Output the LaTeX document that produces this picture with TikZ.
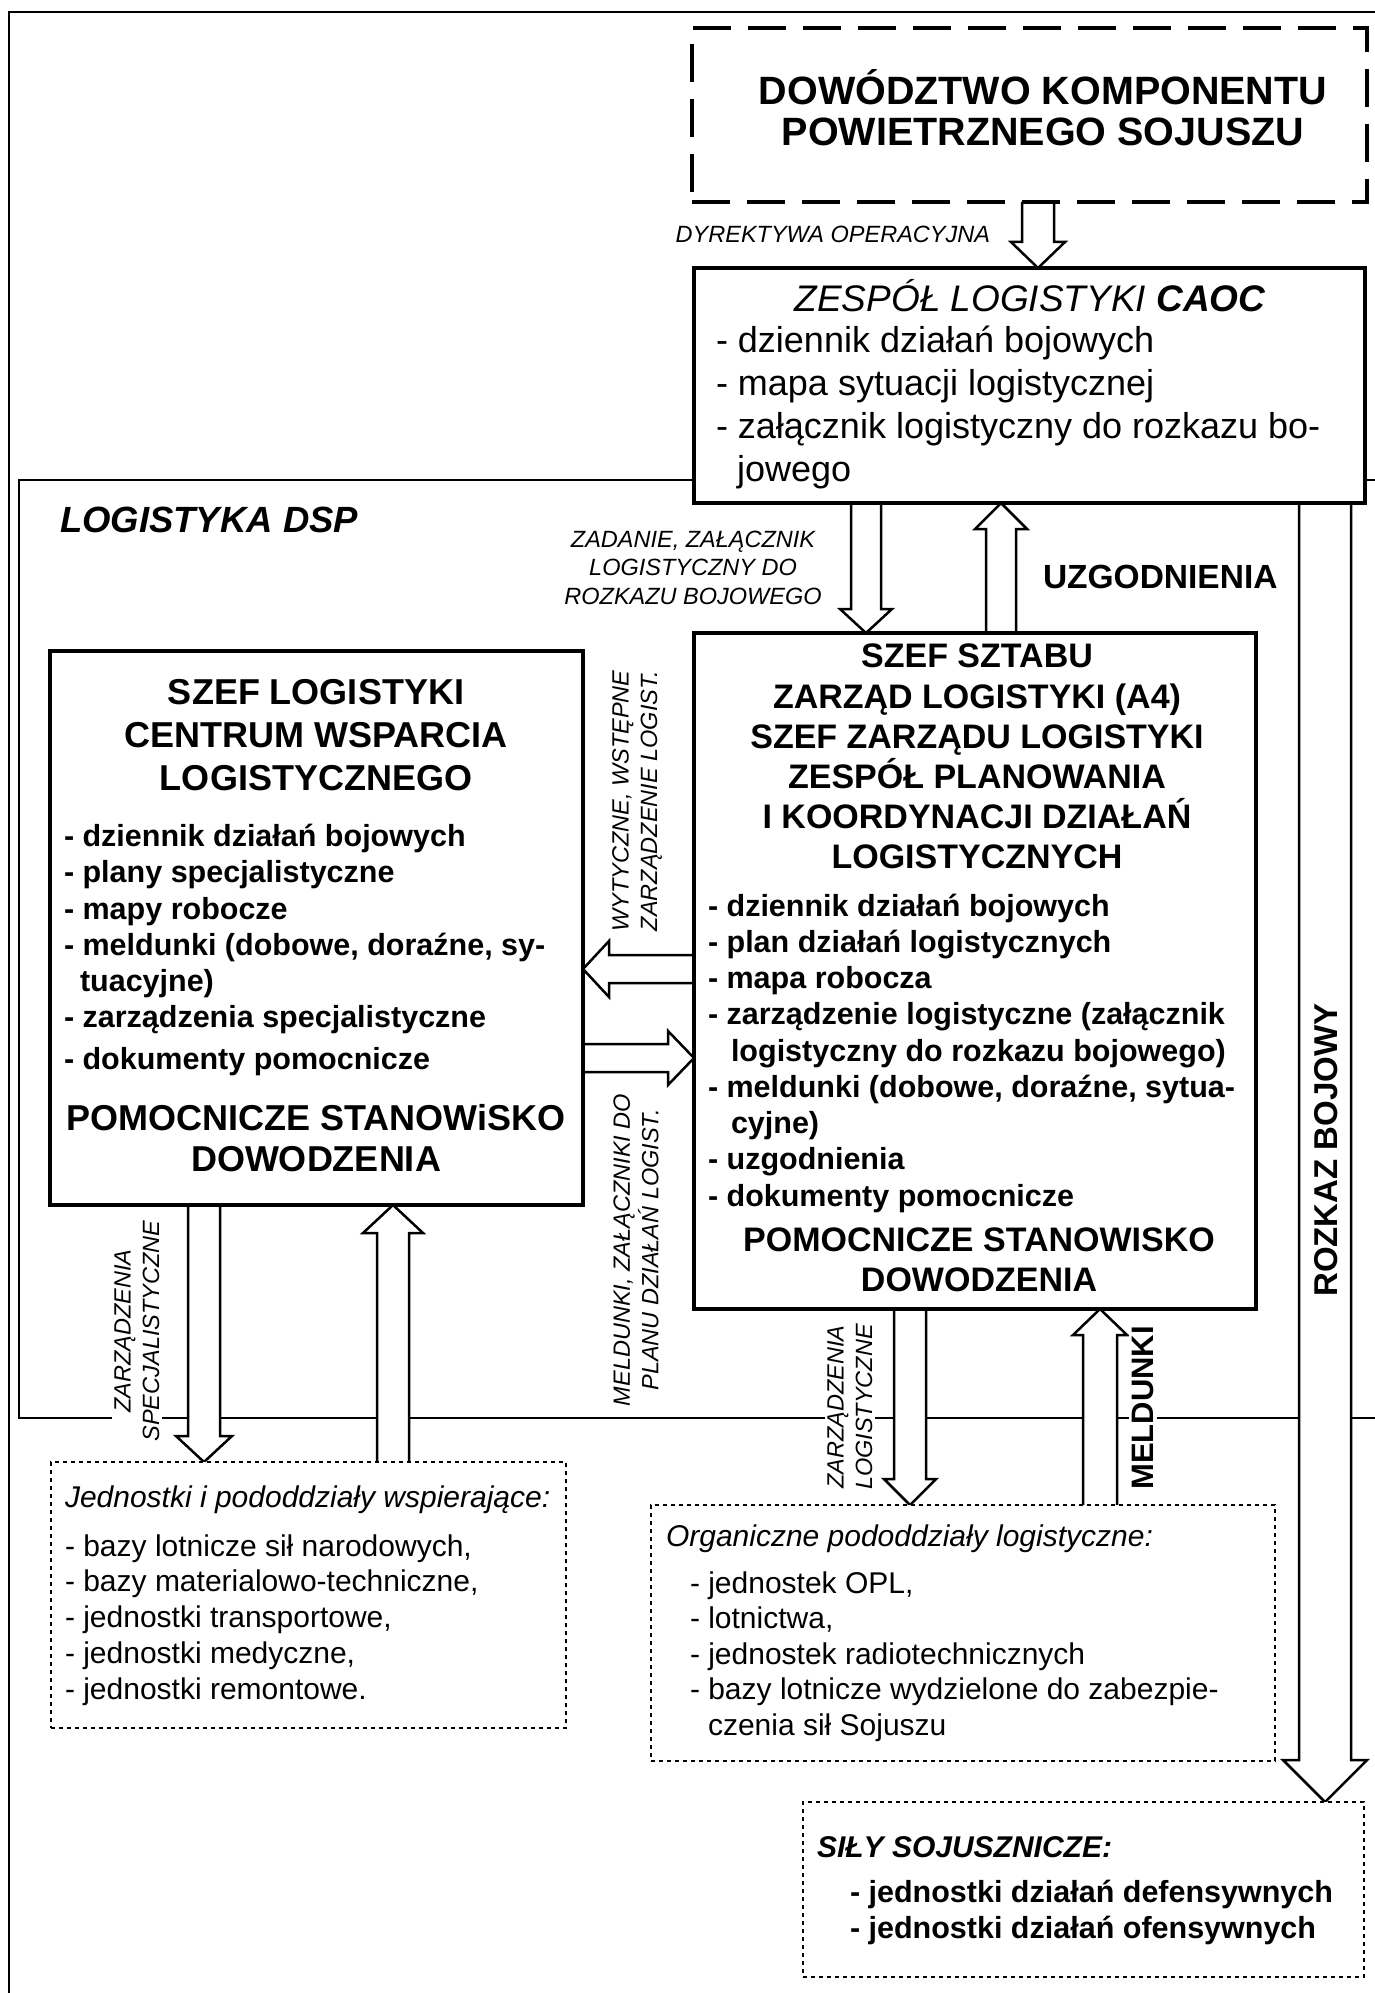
\documentclass[tikz,border=0pt]{standalone}
\usepackage{fontspec}
\setmainfont{Liberation Sans}
\usetikzlibrary{calc}
\pgfdeclarelayer{bg}
\pgfdeclarelayer{arr}
\pgfsetlayers{bg,arr,main}
\newcommand{\fs}[2]{\fontsize{#1}{#2}\selectfont}
% vertical block arrow: #1 tail, #2 tip, #3 shaft half width, #4 head half width, #5 signed head length (canvas)
\newcommand{\varrow}[5]{%
  \draw[blk] let \p1=(#1), \p2=(#2) in
    ({\x1-#3},\y1) -- ({\x1-#3},{\y2+(#5)}) -- ({\x1-#4},{\y2+(#5)}) -- (\x1,\y2)
    -- ({\x1+#4},{\y2+(#5)}) -- ({\x1+#3},{\y2+(#5)}) -- ({\x1+#3},\y1);}
% horizontal block arrow
\newcommand{\harrow}[5]{%
  \draw[blk] let \p1=(#1), \p2=(#2) in
    (\x1,{\y1+#3}) -- ({\x2+(#5)},{\y1+#3}) -- ({\x2+(#5)},{\y1+#4}) -- (\x2,\y1)
    -- ({\x2+(#5)},{\y1-#4}) -- ({\x2+(#5)},{\y1-#3}) -- (\x1,{\y1-#3});}
\tikzset{
  every node/.style={inner sep=0pt, outer sep=0pt},
  frame/.style={line width=2.5pt},
  dspframe/.style={line width=2pt},
  mainbox/.style={draw, line width=4pt, fill=white, anchor=north west, inner sep=0pt},
  dotbox/.style={draw, line width=2pt, dash pattern=on 4pt off 4pt, fill=white, anchor=north west},
  dashbox/.style={draw, line width=4.5pt, dash pattern=on 38pt off 17pt, anchor=north west},
  blk/.style={draw, line width=2.5pt, fill=white, line join=miter, miter limit=10},
  tc/.style={anchor=base},
  tl/.style={anchor=base west},
  lbl/.style={font=\fs{23.5}{28.5}\itshape, align=center, fill=white, inner sep=3pt},
  rlbl/.style={lbl, rotate=90},
}
\begin{document}
\begin{tikzpicture}[x=1pt,y=-1pt]
\useasboundingbox (0,0) rectangle (1374,1993);
\clip (0,0) rectangle (1374,1993);

% ---------- boxes ----------
\node[dashbox, minimum width=675pt, minimum height=174pt] (dkp) at (692,28) {};
\node[mainbox, minimum width=671pt, minimum height=235pt] (caoc) at (694,268) {};
\node[mainbox, minimum width=562pt, minimum height=676pt] (sztab) at (694,633) {};
\node[mainbox, minimum width=533pt, minimum height=554pt] (logc) at (50,651) {};
\node[dotbox, minimum width=515pt, minimum height=266pt] (wsp) at (51,1462) {};
\node[dotbox, minimum width=624pt, minimum height=256pt] (org) at (651,1505) {};
\node[dotbox, minimum width=561pt, minimum height=175pt] (sily) at (803,1802) {};

% arrow axes
\coordinate (axA) at (1038,0);
\coordinate (axB) at (866,0);
\coordinate (axC) at (1001,0);
\coordinate (axD) at (1325,0);
\coordinate (axE) at (204,0);
\coordinate (axF) at (393,0);
\coordinate (axG) at (910,0);
\coordinate (axH) at (1100,0);
\coordinate (ayA) at (0,969);
\coordinate (ayB) at (0,1058);

% ---------- frames ----------
\begin{pgfonlayer}{bg}
\fill[white] (0,0) rectangle (1374,1993);
\draw[frame] (9,2100) -- (9,12) -- (1400,12);
\draw[dspframe] (1400,480) -- (19,480) -- (19,1418) -- (1400,1418);
\end{pgfonlayer}

% ---------- arrows ----------
\begin{pgfonlayer}{arr}
\varrow{dkp.south -| axA}{caoc.north -| axA}{16pt}{27pt}{26pt}
\varrow{caoc.south -| axB}{sztab.north -| axB}{15pt}{26pt}{24pt}
\varrow{sztab.north -| axC}{caoc.south -| axC}{15pt}{26pt}{-26pt}
\varrow{caoc.south -| axD}{sily.north -| axD}{26pt}{42pt}{42pt}
\harrow{sztab.west |- ayA}{logc.east |- ayA}{14pt}{28pt}{26pt}
\harrow{logc.east |- ayB}{sztab.west |- ayB}{14pt}{27pt}{-26pt}
\varrow{logc.south -| axE}{wsp.north -| axE}{16pt}{28pt}{26pt}
\varrow{wsp.north -| axF}{logc.south -| axF}{16pt}{30pt}{-28pt}
\varrow{sztab.south -| axG}{org.north -| axG}{16pt}{26pt}{26pt}
\varrow{org.north -| axH}{sztab.south -| axH}{17pt}{27pt}{-26pt}
\end{pgfonlayer}

% ---------- texts ----------
\node[tc, font=\fs{39.5}{42}\bfseries] (dkp1) at (1043,105) {DOWÓDZTWO KOMPONENTU};
\node[tc, font=\fs{39.5}{42}\bfseries] (dkp2) at (1043,146) {POWIETRZNEGO SOJUSZU};

\node[anchor=base east, font=\fs{23.5}{28}\itshape] (dyr) at (990,243) {DYREKTYWA OPERACYJNA};

\node[tc, font=\fs{37}{40}\itshape] (caoch) at (1030,311) {ZESPÓŁ LOGISTYKI \textbf{CAOC}};
\node[tl, font=\fs{36}{40}] (caoc1) at (716,352) {- dziennik działań bojowych};
\node[tl, font=\fs{36}{40}] (caoc2) at (716,395) {- mapa sytuacji logistycznej};
\node[tl, font=\fs{36}{40}] (caoc3) at (716,438) {- załącznik logistyczny do rozkazu bo-};
\node[tl, font=\fs{36}{40}] (caoc4) at (737,481) {jowego};

\node[tl, font=\fs{36.5}{40}\bfseries\itshape] (dsp) at (60,532) {LOGISTYKA DSP};

\node[tc, font=\fs{23.5}{28}\itshape] (zad1) at (693,547) {ZADANIE, ZAŁĄCZNIK};
\node[tc, font=\fs{23.5}{28}\itshape] (zad2) at (693,575.5) {LOGISTYCZNY DO};
\node[tc, font=\fs{23.5}{28}\itshape] (zad3) at (693,604) {ROZKAZU BOJOWEGO};

\node[tl, font=\fs{33.5}{36}\bfseries] (uzg) at (1043,588) {UZGODNIENIA};

% SZEF SZTABU box
\foreach \t/\yy [count=\i] in {SZEF SZTABU/667, ZARZĄD LOGISTYKI (A4)/708, SZEF ZARZĄDU LOGISTYKI/748, ZESPÓŁ PLANOWANIA/788, I KOORDYNACJI DZIAŁAŃ/828, LOGISTYCZNYCH/868}
  \node[tc, font=\fs{34}{36}\bfseries] (szh\i) at (977,\yy) {\t};
\node[tl, font=\fs{30.5}{34}\bfseries] (sz1) at (708,916) {- dziennik działań bojowych};
\node[tl, font=\fs{30.5}{34}\bfseries] (sz2) at (708,952.25) {- plan działań logistycznych};
\node[tl, font=\fs{30.5}{34}\bfseries] (sz3) at (708,988.5) {- mapa robocza};
\node[tl, font=\fs{30.5}{34}\bfseries] (sz4) at (708,1024.75) {- zarządzenie logistyczne (załącznik};
\node[tl, font=\fs{30.5}{34}\bfseries] (sz5) at (731,1061) {logistyczny do rozkazu bojowego)};
\node[tl, font=\fs{30.5}{34}\bfseries] (sz6) at (708,1097.25) {- meldunki (dobowe, doraźne, sytua-};
\node[tl, font=\fs{30.5}{34}\bfseries] (sz7) at (731,1133.5) {cyjne)};
\node[tl, font=\fs{30.5}{34}\bfseries] (sz8) at (708,1169.75) {- uzgodnienia};
\node[tl, font=\fs{30.5}{34}\bfseries] (sz9) at (708,1206) {- dokumenty pomocnicze};
\node[tc, font=\fs{34}{36}\bfseries] (szf1) at (979,1251) {POMOCNICZE STANOWISKO};
\node[tc, font=\fs{34}{36}\bfseries] (szf2) at (979,1291) {DOWODZENIA};

% SZEF LOGISTYKI box
\node[tc, font=\fs{36}{38}\bfseries] (lgh1) at (316,704) {SZEF LOGISTYKI};
\node[tc, font=\fs{36}{38}\bfseries] (lgh2) at (316,747) {CENTRUM WSPARCIA};
\node[tc, font=\fs{36}{38}\bfseries] (lgh3) at (316,790) {LOGISTYCZNEGO};
\node[tl, font=\fs{30.5}{34}\bfseries] (lg1) at (64,846) {- dziennik działań bojowych};
\node[tl, font=\fs{30.5}{34}\bfseries] (lg2) at (64,882) {- plany specjalistyczne};
\node[tl, font=\fs{30.5}{34}\bfseries] (lg3) at (64,919) {- mapy robocze};
\node[tl, font=\fs{30.5}{34}\bfseries] (lg4) at (64,955) {- meldunki (dobowe, doraźne, sy-};
\node[tl, font=\fs{30.5}{34}\bfseries] (lg5) at (80,991) {tuacyjne)};
\node[tl, font=\fs{30.5}{34}\bfseries] (lg6) at (64,1027) {- zarządzenia specjalistyczne};
\node[tl, font=\fs{30.5}{34}\bfseries] (lg7) at (64,1069) {- dokumenty pomocnicze};
\node[tc, font=\fs{36}{38}\bfseries] (lgf1) at (316,1130) {POMOCNICZE STANOWiSKO};
\node[tc, font=\fs{36}{38}\bfseries] (lgf2) at (316,1171) {DOWODZENIA};

% rotated labels
\node[rlbl] (wyt) at (637,801) {WYTYCZNE, WSTĘPNE\\ZARZĄDZENIE LOGIST.};
\node[rlbl] (mel) at (636,1250) {MELDUNKI, ZAŁĄCZNIKI DO\\PLANU DZIAŁAŃ LOGIST.};
\node[rlbl] (zsp) at (137,1331) {ZARZĄDZENIA\\SPECJALISTYCZNE};
\node[rlbl] (zlg) at (850,1407) {ZARZĄDZENIA\\LOGISTYCZNE};
\node[rotate=90, fill=white, inner sep=3pt, font=\fs{31}{34}\bfseries] (meld) at (1143,1408) {MELDUNKI};
\node[rotate=90, font=\fs{33}{36}\bfseries] (rozk) at (1326,1150) {ROZKAZ BOJOWY};

% dotted box 1
\node[tl, font=\fs{30}{34}\itshape] (w0) at (65,1507) {Jednostki i pododdziały wspierające:};
\node[tl, font=\fs{30}{34}] (w1) at (65,1556) {- bazy lotnicze sił narodowych,};
\node[tl, font=\fs{30}{34}] (w2) at (65,1591.7) {- bazy materialowo-techniczne,};
\node[tl, font=\fs{30}{34}] (w3) at (65,1627.4) {- jednostki transportowe,};
\node[tl, font=\fs{30}{34}] (w4) at (65,1663) {- jednostki medyczne,};
\node[tl, font=\fs{30}{34}] (w5) at (65,1699) {- jednostki remontowe.};

% dotted box 2
\node[tl, font=\fs{30}{34}\itshape] (o0) at (666,1546) {Organiczne pododdziały logistyczne:};
\node[tl, font=\fs{30}{34}] (o1) at (690,1593) {- jednostek OPL,};
\node[tl, font=\fs{30}{34}] (o2) at (690,1628.5) {- lotnictwa,};
\node[tl, font=\fs{30}{34}] (o3) at (690,1664) {- jednostek radiotechnicznych};
\node[tl, font=\fs{30}{34}] (o4) at (690,1699.5) {- bazy lotnicze wydzielone do zabezpie-};
\node[tl, font=\fs{30}{34}] (o5) at (708,1735) {czenia sił Sojuszu};

% SILY box
\node[tl, font=\fs{30}{34}\bfseries\itshape] (s0) at (817,1857) {SIŁY SOJUSZNICZE:};
\node[tl, font=\fs{30.5}{34}\bfseries] (s1) at (850,1902) {- jednostki działań defensywnych};
\node[tl, font=\fs{30.5}{34}\bfseries] (s2) at (850,1938) {- jednostki działań ofensywnych};
\end{tikzpicture}
\end{document}
